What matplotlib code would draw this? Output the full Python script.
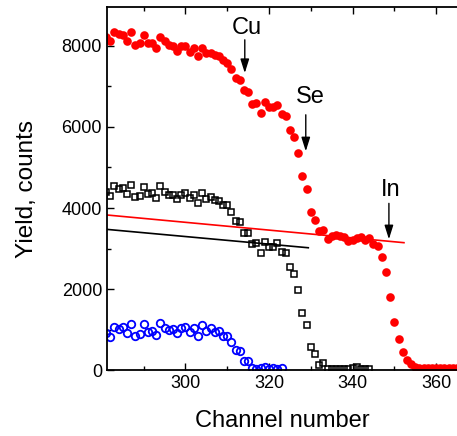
import numpy as np
import matplotlib
matplotlib.use("Agg")
import matplotlib.pyplot as plt
from matplotlib.ticker import MultipleLocator

plt.rcParams['font.family'] = ['Liberation Sans', 'DejaVu Sans']

# channels for each series
red_ch = np.arange(281, 366)
black_ch = np.arange(281, 345)
blue_ch = np.arange(281, 324)

# red filled circles
red_y = [8230, 8130, 8350, 8290, 8270, 8130, 8350, 8025, 8065, 8270,
         8080, 8080, 7940, 8230, 8110, 8025, 7985, 7885, 7985, 8000,
         7860, 7940, 7740, 7940, 7820, 7835, 7780, 7750, 7640, 7590,
         7430, 7200, 7160, 6900, 6870, 6570, 6600, 6340, 6625, 6490,
         6490, 6540, 6330, 6280, 5926, 5745, 5350, 4790, 4460, 3910,
         3700, 3440, 3460, 3225, 3310, 3333, 3310, 3290, 3190, 3210,
         3250, 3290, 3210, 3250, 3110, 3060, 2780, 2430, 1795, 1190,
         780, 450, 250, 150, 80, 60, 60, 60, 60, 60,
         60, 60, 60, 60, 60]

# black open squares
black_y = [4400, 4300, 4545, 4460, 4485, 4345, 4570, 4265, 4300, 4525,
           4345, 4360, 4240, 4545, 4400, 4320, 4320, 4215, 4320, 4360,
           4240, 4320, 4130, 4360, 4215, 4280, 4200, 4180, 4075, 4075,
           3910, 3690, 3665, 3390, 3390, 3110, 3130, 2880, 3160, 3045,
           3030, 3140, 2920, 2900, 2535, 2370, 1990, 1415, 1110, 560,
           395, 125, 165, 40, 40, 40, 40, 30, 40, 60,
           80, 40, 40, 40]

# blue open circles
blue_y = [920, 810, 1070, 1005, 1055, 905, 1150, 840, 890, 1135,
          945, 970, 865, 1170, 1030, 990, 1005, 905, 1030, 1070,
          945, 1030, 848, 1110, 970, 1030, 945, 970, 848, 848,
          700, 494, 477, 222, 222, 60, 40, 50, 70, 30,
          60, 40, 50]

# straight lines (end points)
red_line_x = [281, 352.3]
red_line_y = [3830, 3145]
black_line_x = [281, 329.4]
black_line_y = [3475, 3020]

# element markers: label, channel, arrow top, arrow tip, label position
elements = ['Cu', 'Se', 'In']
elem_ch = [314.2, 328.8, 348.7]
arrow_top = [8150, 6300, 4115]
arrow_tip = [7330, 5400, 3230]
label_x = [314.6, 330.0, 349.1]
label_y = [8450, 6750, 4440]

fig = plt.figure(figsize=(4.57, 4.36), dpi=100)
ax = fig.add_axes([0.234, 0.151, 0.766, 0.833])

ax.plot(red_ch, red_y, 'o', color='#ff0000', ms=6.2, mec='#ff0000', mew=0)
ax.plot(black_ch, black_y, 's', color='black', mfc='none', ms=4.3, mew=1.1)
ax.plot(blue_ch, blue_y, 'o', color='#0000ff', mfc='none', ms=5.4, mew=1.3)
ax.plot(red_line_x, red_line_y, '-', color='#ff0000', lw=1.2)
ax.plot(black_line_x, black_line_y, '-', color='black', lw=1.2)

for name, c, top, tip, tx, ty in zip(elements, elem_ch, arrow_top, arrow_tip, label_x, label_y):
    ax.annotate('', xy=(c, tip), xytext=(c, top),
                arrowprops=dict(arrowstyle='-|>,head_length=0.7,head_width=0.22',
                                color='black', lw=1.0,
                                mutation_scale=12, shrinkA=0, shrinkB=0))
    ax.text(tx, ty, name, ha='center', va='center', fontsize=17)

ax.set_xlim(281.2, 365)
ax.set_ylim(0, 8960)
ax.xaxis.set_major_locator(MultipleLocator(20))
ax.xaxis.set_minor_locator(MultipleLocator(10))
ax.yaxis.set_major_locator(MultipleLocator(2000))
ax.yaxis.set_minor_locator(MultipleLocator(1000))
ax.tick_params(which='both', direction='in', top=True, right=False,
               labelsize=13, width=1.0)
ax.tick_params(which='major', length=5)
ax.tick_params(which='minor', length=3)
for s in ['left', 'bottom', 'top']:
    ax.spines[s].set_linewidth(1.3)
ax.spines['right'].set_visible(False)

ax.set_xlabel('Channel number', fontsize=17, labelpad=13)
ax.set_ylabel('Yield, counts', fontsize=17.5, labelpad=17)

plt.savefig('out.png', dpi=100)
